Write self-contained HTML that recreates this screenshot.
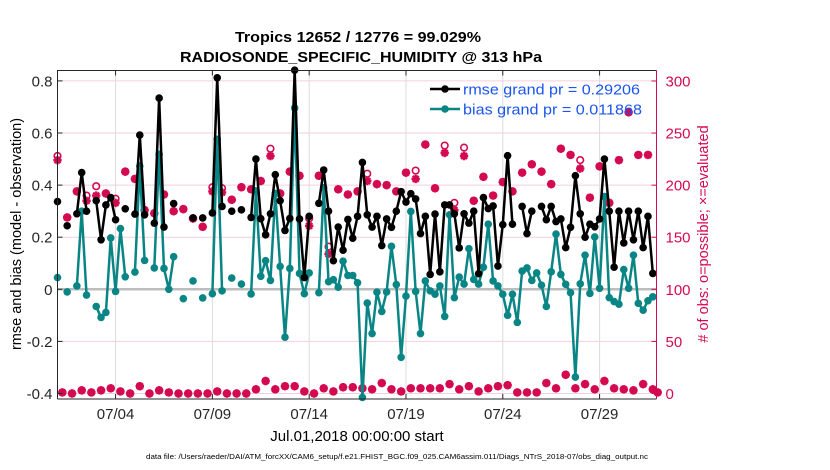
<!DOCTYPE html>
<html><head><meta charset="utf-8"><style>
html,body{margin:0;padding:0;background:#fff;}
svg{display:block;font-family:"Liberation Sans",Arial,sans-serif;}
</style></head><body>
<svg id="chart" width="830" height="470" viewBox="0 0 830 470" xmlns="http://www.w3.org/2000/svg">
<rect x="0" y="0" width="830" height="470" fill="#fff"/>
<text x="358" y="42" text-anchor="middle" font-size="14.5" font-weight="bold" textLength="246" lengthAdjust="spacingAndGlyphs">Tropics 12652 / 12776 = 99.029%</text>
<text x="361" y="62" text-anchor="middle" font-size="14.5" font-weight="bold" textLength="362" lengthAdjust="spacingAndGlyphs">RADIOSONDE_SPECIFIC_HUMIDITY @ 313 hPa</text>
<g id="grid"></g>
<g id="series"></g>
<g id="axes"></g>
<g id="legend">
  <line x1="430" y1="89" x2="460" y2="89" stroke="#000" stroke-width="2.5"/>
  <circle cx="445" cy="89" r="3.8" fill="#000"/>
  <text x="463" y="94.5" font-size="14.5" fill="#1a55f0" textLength="177" lengthAdjust="spacingAndGlyphs">rmse grand pr = 0.29206</text>
  <line x1="430" y1="109" x2="460" y2="109" stroke="#0a8585" stroke-width="2.5"/>
  <circle cx="445" cy="109" r="3.8" fill="#0a8585"/>
  <text x="463" y="114.5" font-size="14.5" fill="#1a55f0" textLength="179" lengthAdjust="spacingAndGlyphs">bias grand pr = 0.011868</text>
</g>
<text transform="translate(21,234) rotate(-90)" text-anchor="middle" font-size="14.5">rmse and bias (model - observation)</text>
<text transform="translate(708,234) rotate(-90)" text-anchor="middle" font-size="14.5" fill="#d40a50"># of obs: o=possible; ×=evaluated</text>
<text x="357" y="441" text-anchor="middle" font-size="15">Jul.01,2018 00:00:00 start</text>
<text x="146" y="459" font-size="7.5" textLength="502" lengthAdjust="spacingAndGlyphs">data file: /Users/raeder/DAI/ATM_forcXX/CAM6_setup/f.e21.FHIST_BGC.f09_025.CAM6assim.011/Diags_NTrS_2018-07/obs_diag_output.nc</text>
</svg>
<script>
const N = 125;
const rmse = [0.337,null,0.244,null,0.29,0.448,0.30,null,0.34,0.19,0.324,0.352,0.267,null,0.309,null,0.289,0.592,0.286,null,0.254,0.734,0.239,null,0.329,null,null,null,0.274,null,0.274,null,0.293,0.812,0.318,null,0.30,null,0.305,null,0.276,0.5,0.271,0.209,0.29,0.44,0.34,0.226,0.272,0.841,0.27,0.045,0.28,null,0.33,0.458,0.3,0.11,0.239,0.15,0.268,0.196,0.28,0.487,0.286,0.239,0.28,0.168,0.27,0.238,0.30,0.375,0.335,0.367,0.347,0.214,0.28,0.057,0.289,0.067,0.324,0.324,0.29,0.159,0.29,0.254,0.30,0.06,0.352,0.31,0.32,0.089,0.248,0.513,0.25,null,0.318,0.214,0.30,null,0.318,0.267,0.318,0.26,0.27,0.16,0.238,0.436,0.29,0.2,0.25,0.24,0.27,0.5,0.30,0.085,0.30,0.178,0.30,0.19,0.30,0.16,0.28,0.061,null];
const bias = [0.045,null,-0.01,null,0.013,0.30,-0.022,null,-0.066,-0.108,-0.089,0.197,-0.008,0.233,0.048,null,0.066,0.473,0.111,null,0.082,0.518,0.08,0.0,0.125,null,-0.036,null,0.032,null,-0.033,null,-0.017,0.576,-0.006,null,0.043,null,0.02,null,-0.018,0.378,0.05,0.11,0.034,0.368,0.088,-0.184,0.08,0.696,0.061,-0.017,0.063,null,-0.013,0.39,0.029,0.037,0.008,0.108,0.053,0.053,0.025,-0.415,-0.053,-0.17,-0.011,-0.085,-0.01,0.165,0.018,-0.261,-0.026,0.299,-0.008,-0.17,0.032,-0.006,-0.019,0.013,-0.104,0.286,-0.032,0.047,0.02,0.156,0.038,0.02,0.085,0.25,0.032,0.013,-0.019,-0.1,-0.019,-0.127,0.07,0.082,0.034,0.063,0.016,-0.066,0.067,0.212,0.057,0.019,-0.013,-0.337,0.021,0.131,-0.016,0.201,0.004,0.356,-0.032,-0.047,-0.057,0.076,0.004,0.131,-0.054,-0.08,-0.044,-0.029,null];
const evaluated = [224,1,169,0,194,3,185,1,190,3,192,5,183,2,213,0,206,7,176,0,173,3,191,1,175,0,177,0,168,0,160,0,194,2,193,0,186,0,198,0,196,4,204,12,228,4,192,7,213,7,209,2,161,0,209,5,134,2,196,6,191,6,194,5,204,4,201,10,200,4,194,2,212,5,206,5,239,5,197,5,231,9,176,4,228,7,185,2,208,5,190,7,203,8,194,1,212,1,220,1,213,10,201,5,235,18,229,5,216,9,188,4,218,12,183,5,224,4,270,3,229,9,229,4,1];
const possible = [228,1,169,0,194,3,190,1,199,3,192,5,187,2,213,0,206,7,176,0,173,3,191,1,175,0,177,0,168,0,160,0,198,2,197,0,186,0,198,0,196,4,204,12,235,4,192,7,213,7,209,2,168,0,209,5,141,2,196,6,191,6,194,5,211,4,201,10,200,4,194,2,212,5,214,5,239,5,197,5,238,9,183,4,236,7,185,2,208,5,190,7,203,8,194,1,212,1,220,1,213,10,201,5,235,18,229,5,224,9,188,4,218,12,183,5,224,4,270,3,229,9,229,4,1];
const leftTicks = [0.8,0.6,0.4,0.2,0,-0.2,-0.4];
const leftTickLabels = ["0.8","0.6","0.4","0.2","0","-0.2","-0.4"];
const rightTicks = [300,250,200,150,100,50,0];
const xTickIdx = [12,32,52,72,92,112];
const xTickLabels = ["07/04","07/09","07/14","07/19","07/24","07/29"];

const L=57.5, R=656.5, T=70.5, B=399;
const xs = i => L + i*4.84;
const yv = v => 289.3 - v*260.5;
const yc = c => 393.5 - c*1.0417;
const NS="http://www.w3.org/2000/svg";
function mk(tag, attrs, parent){const e=document.createElementNS(NS,tag);for(const k in attrs)e.setAttribute(k,attrs[k]);parent.appendChild(e);return e;}
const grid=document.getElementById('grid'), ser=document.getElementById('series'), ax=document.getElementById('axes');
const MAG="#d40a50", TEAL="#0a8585";

leftTicks.forEach(v=>{ if(v!==0){const g=mk('line',{x1:L,x2:R,y1:yv(v),y2:yv(v),stroke:'#f4cfdc','stroke-width':1},grid);

}});
xTickIdx.forEach(i=>{const g=mk('line',{x1:xs(i),x2:xs(i),y1:T,y2:B,stroke:'#dcdcdc','stroke-width':1},grid);

});
const zl=mk('line',{x1:L,x2:R,y1:yv(0),y2:yv(0),stroke:'#bdbdbd','stroke-width':2.5},grid);



possible.forEach((c,i)=>{ if(c==null) return;
  const e=mk('circle',{cx:xs(i),cy:yc(c),r:3.3,fill:'none',stroke:MAG,'stroke-width':1.6},ser);
  
  
});
evaluated.forEach((c,i)=>{ if(c==null) return;
  const x=xs(i), y=yc(c), s=4.2, d=3;
  const e=mk('path',{d:`M${x-s},${y}H${x+s}M${x},${y-s}V${y+s}M${x-d},${y-d}L${x+d},${y+d}M${x-d},${y+d}L${x+d},${y-d}`,stroke:MAG,'stroke-width':2.4,fill:'none'},ser);
  
  
});

function drawSeries(vals,color,name){
  let seg=[];
  const segs=[];
  vals.forEach((v,i)=>{ if(v==null){ if(seg.length)segs.push(seg); seg=[]; } else seg.push([xs(i),yv(v)]); });
  if(seg.length)segs.push(seg);
  segs.forEach(s=>{ if(s.length>1){
    const p=mk('polyline',{points:s.map(q=>q.join(',')).join(' '),fill:'none',stroke:color,'stroke-width':2.5,'stroke-linejoin':'round'},ser);
    
    
  }});
  vals.forEach((v,i)=>{ if(v==null) return;
    const c=mk('circle',{cx:xs(i),cy:yv(v),r:3.8,fill:color},ser);
    
    
  });
}
drawSeries(bias,TEAL,'bias');
drawSeries(rmse,'#000','rmse');

const fr=mk('path',{d:`M${L},${B}V${T}H${R}M${L},${B}H${R}`,fill:'none',stroke:'#262626','stroke-width':1},ax);


const ra=mk('line',{x1:R,x2:R,y1:T,y2:B,stroke:MAG,'stroke-width':1},ax);


leftTicks.forEach((v,k)=>{
  mk('line',{x1:L,x2:L+5,y1:yv(v),y2:yv(v),stroke:'#262626'},ax);
  const t=mk('text',{x:L-5,y:yv(v)+5.5,'text-anchor':'end','font-size':15,fill:'#262626'},ax);
  t.textContent=leftTickLabels[k];
  
  
});
rightTicks.forEach(c=>{
  mk('line',{x1:R-5,x2:R,y1:yc(c),y2:yc(c),stroke:MAG},ax);
  const t=mk('text',{x:R+9,y:yc(c)+5.5,'font-size':15,fill:MAG},ax);
  t.textContent=String(c);
  
  
});
xTickIdx.forEach((i,k)=>{
  mk('line',{x1:xs(i),x2:xs(i),y1:B,y2:B-5,stroke:'#262626'},ax);
  mk('line',{x1:xs(i),x2:xs(i),y1:T,y2:T+5,stroke:'#262626'},ax);
  const t=mk('text',{x:xs(i),y:419,'text-anchor':'middle','font-size':15,fill:'#262626'},ax);
  t.textContent=xTickLabels[k];
  
  
});
</script>
</body></html>
